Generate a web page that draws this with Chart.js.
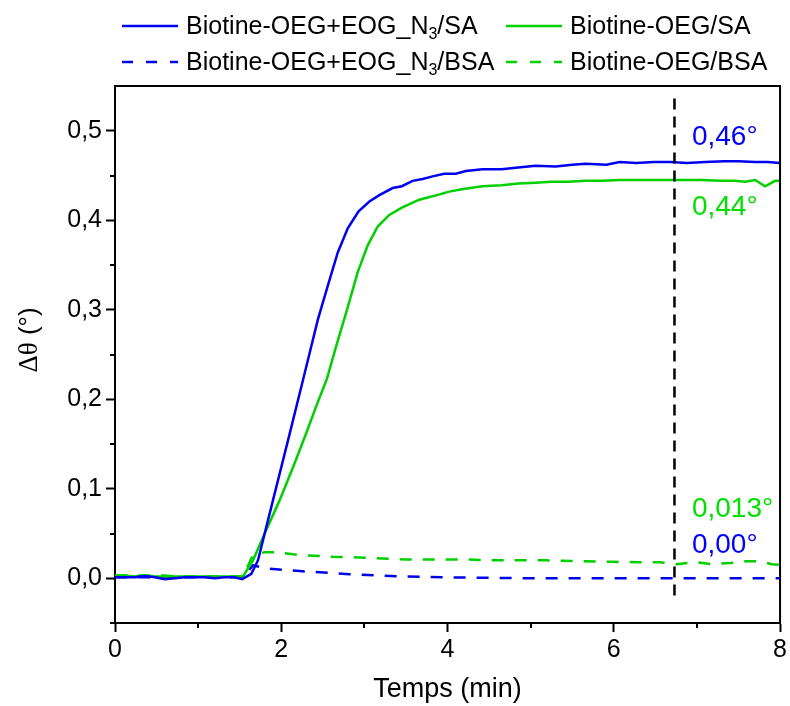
<!DOCTYPE html>
<html>
<head>
<meta charset="utf-8">
<script src="https://cdn.jsdelivr.net/npm/chart.js@4.4.1/dist/chart.umd.min.js"></script>
<style>
  html, body { margin: 0; padding: 0; background: #ffffff; }
  #wrap { width: 790px; height: 706px; position: relative; }
</style>
</head>
<body>
<div id="wrap"><canvas id="c" width="790" height="706"></canvas></div>
<script>
// ---------------- DATA ----------------
const seriesNames = [
  ['Biotine-OEG+EOG_N', '3', '/SA'],
  ['Biotine-OEG/SA', '', ''],
  ['Biotine-OEG+EOG_N', '3', '/BSA'],
  ['Biotine-OEG/BSA', '', '']
];
const yTitleParts = ['Δθ', ' (°)'];
const xTitle = 'Temps (min)';

const tSA_N3 = [0, 0.12, 0.24, 0.36, 0.48, 0.6, 0.72, 0.84, 0.96, 1.08, 1.2, 1.32, 1.44, 1.53, 1.64, 1.72, 1.9, 2.1, 2.26, 2.44, 2.57, 2.68, 2.8, 2.93, 3.06, 3.18, 3.34, 3.45, 3.58, 3.7, 3.82, 3.96, 4.1, 4.22, 4.42, 4.65, 4.85, 5.06, 5.3, 5.5, 5.66, 5.91, 6.07, 6.27, 6.48, 6.68, 6.88, 7.1, 7.33, 7.5, 7.7, 7.85, 8.0];
const vSA_N3 = [0.001, 0.001, 0.001, 0.0025, 0.001, -0.001, 0, 0.001, 0.001, 0.001, 0, 0.001, 0.001, -0.001, 0.005, 0.02, 0.087, 0.161, 0.221, 0.289, 0.33, 0.364, 0.391, 0.410, 0.421, 0.428, 0.436, 0.438, 0.444, 0.446, 0.449, 0.452, 0.452, 0.455, 0.457, 0.457, 0.459, 0.461, 0.460, 0.462, 0.463, 0.462, 0.465, 0.464, 0.465, 0.465, 0.464, 0.465, 0.466, 0.466, 0.465, 0.465, 0.464];

const tSA = [0, 0.12, 0.24, 0.36, 0.48, 0.6, 0.72, 0.84, 0.96, 1.08, 1.2, 1.32, 1.44, 1.54, 1.66, 1.8, 1.98, 2.15, 2.3, 2.42, 2.55, 2.66, 2.8, 2.92, 3.04, 3.16, 3.3, 3.45, 3.66, 3.83, 4.02, 4.19, 4.42, 4.65, 4.85, 5.06, 5.25, 5.45, 5.66, 5.86, 6.07, 6.27, 6.5, 6.8, 7.05, 7.29, 7.45, 7.58, 7.70, 7.82, 7.94, 8.0];
const vSA = [0.003, 0.003, 0.002, 0.003, 0.002, 0.002, 0.002, 0.002, 0.002, 0.002, 0.002, 0.002, 0.002, 0.002, 0.02, 0.05, 0.087, 0.126, 0.162, 0.192, 0.223, 0.259, 0.303, 0.342, 0.372, 0.393, 0.406, 0.414, 0.423, 0.427, 0.432, 0.435, 0.438, 0.439, 0.441, 0.442, 0.443, 0.443, 0.444, 0.444, 0.445, 0.445, 0.445, 0.445, 0.445, 0.444, 0.444, 0.443, 0.445, 0.438, 0.444, 0.444];

const tBSA_N3 = [0, 0.2, 0.4, 0.6, 0.8, 1.0, 1.2, 1.4, 1.54, 1.66, 1.82, 2.22, 2.82, 3.42, 4.02, 5.0, 6.0, 7.0, 8.0];
const vBSA_N3 = [0.001, 0.001, 0.001, 0.0, 0.001, 0.001, 0.001, 0.001, 0.001, 0.0145, 0.011, 0.008, 0.0045, 0.002, 0.001, 0.0, 0.0, 0.0, 0.0];

const tBSA = [0, 0.12, 0.24, 0.36, 0.48, 0.6, 0.72, 0.84, 0.96, 1.08, 1.2, 1.32, 1.44, 1.54, 1.66, 1.8, 1.94, 2.22, 2.62, 3.0, 3.22, 3.5, 3.82, 4.2, 4.5, 4.85, 5.19, 5.6, 5.98, 6.3, 6.55, 6.75, 6.99, 7.18, 7.4, 7.59, 7.75, 7.9, 8.0];
const vBSA = [0.003, 0.003, 0.003, 0.003, 0.003, 0.003, 0.002, 0.002, 0.002, 0.002, 0.002, 0.002, 0.002, 0.002, 0.026, 0.029, 0.029, 0.026, 0.024, 0.023, 0.022, 0.021, 0.021, 0.021, 0.020, 0.020, 0.020, 0.019, 0.0183, 0.018, 0.018, 0.0157, 0.018, 0.0157, 0.017, 0.019, 0.019, 0.0157, 0.015];

const xTickValues = [0, 2, 4, 6, 8];
const xMinorTicks = [1, 3, 5, 7];
const yTickValues = [0, 0.1, 0.2, 0.3, 0.4, 0.5];
const yMinorTicks = [-0.05, 0.05, 0.15, 0.25, 0.35, 0.45];

const markerTime = 6.73;           // vertical dashed reference line
const markerRange = [-0.025, 0.536];

const annotTexts = ['0,46°', '0,44°', '0,013°', '0,00°'];
const annotT = [6.94, 6.94, 6.94, 6.94];
const annotV = [0.493, 0.415, 0.077, 0.037];

// ---------------- STYLE ----------------
const BLUE = '#0000F0';
const GREEN = '#00D000';
const BLUE_TXT = '#0000FF';
const GREEN_TXT = '#00E000';
const annotColors = [BLUE_TXT, GREEN_TXT, GREEN_TXT, BLUE_TXT];
const FONT = "'Liberation Sans', Arial, sans-serif";
const SERIF = "'Liberation Serif', 'Times New Roman', serif";

function pts(t, v) { return t.map((x, i) => ({ x: x, y: v[i] })); }

const datasets = [
  { data: pts(tSA_N3, vSA_N3), borderColor: BLUE, borderWidth: 2.5 },
  { data: pts(tSA, vSA), borderColor: GREEN, borderWidth: 2.5 },
  { data: pts(tBSA_N3, vBSA_N3), borderColor: BLUE, borderWidth: 2.5, borderDash: [12, 11] },
  { data: pts(tBSA, vBSA), borderColor: GREEN, borderWidth: 2.5, borderDash: [12, 11] }
].map(d => Object.assign({ pointRadius: 0, tension: 0, fill: false }, d));

// ---------------- PLUGIN: frame, minor ticks, marker, annotations, legend, y title ----------------
const extras = {
  id: 'extras',
  afterDatasetsDraw(chart) {
    const ctx = chart.ctx;
    const ca = chart.chartArea;
    const xs = chart.scales.x, ys = chart.scales.y;
    ctx.save();
    // top & right frame
    ctx.strokeStyle = '#000';
    ctx.lineWidth = 2;
    ctx.beginPath();
    ctx.moveTo(ca.left, ca.top);
    ctx.lineTo(ca.right, ca.top);
    ctx.lineTo(ca.right, ca.bottom);
    ctx.stroke();
    // minor ticks
    ctx.beginPath();
    xMinorTicks.forEach(v => {
      const px = Math.round(xs.getPixelForValue(v));
      ctx.moveTo(px, ca.bottom); ctx.lineTo(px, ca.bottom + 5);
    });
    yMinorTicks.forEach(v => {
      const py = Math.round(ys.getPixelForValue(v));
      ctx.moveTo(ca.left, py); ctx.lineTo(ca.left - 5, py);
    });
    ctx.stroke();
    // vertical dashed marker
    ctx.setLineDash([11, 7]);
    ctx.lineWidth = 2.5;
    const mx = xs.getPixelForValue(markerTime);
    ctx.beginPath();
    ctx.moveTo(mx, ys.getPixelForValue(markerRange[1]));
    ctx.lineTo(mx, ys.getPixelForValue(markerRange[0]));
    ctx.stroke();
    ctx.setLineDash([]);
    // annotations
    ctx.font = '28px ' + FONT;
    ctx.textAlign = 'left';
    ctx.textBaseline = 'middle';
    annotTexts.forEach((txt, i) => {
      ctx.fillStyle = annotColors[i];
      ctx.fillText(txt, xs.getPixelForValue(annotT[i]), ys.getPixelForValue(annotV[i]));
    });
    // legend
    const cols = [122, 506];
    const rows = [26, 62];
    [0, 1, 2, 3].forEach((di, k) => {
      const ds = chart.data.datasets[di];
      const lx = cols[k % 2], ly = rows[Math.floor(k / 2)];
      ctx.strokeStyle = ds.borderColor;
      ctx.lineWidth = 2.5;
      ctx.setLineDash(ds.borderDash ? [11, 13] : []);
      ctx.beginPath();
      ctx.moveTo(lx, ly); ctx.lineTo(lx + 56, ly);
      ctx.stroke();
      ctx.setLineDash([]);
      const parts = seriesNames[di];
      let tx = lx + 64;
      ctx.fillStyle = '#000';
      ctx.textBaseline = 'middle';
      ctx.font = '25px ' + FONT;
      ctx.fillText(parts[0], tx, ly + 1);
      tx += ctx.measureText(parts[0]).width;
      if (parts[1]) {
        ctx.font = '16px ' + FONT;
        ctx.fillText(parts[1], tx, ly + 9);
        tx += ctx.measureText(parts[1]).width;
        ctx.font = '25px ' + FONT;
        ctx.fillText(parts[2], tx, ly + 1);
      }
    });
    // y-axis title (rotated)
    ctx.translate(30, 340);
    ctx.rotate(-Math.PI / 2);
    ctx.fillStyle = '#000';
    ctx.textBaseline = 'middle';
    ctx.font = '27px ' + SERIF;
    const w1 = ctx.measureText(yTitleParts[0]).width;
    ctx.font = '26px ' + FONT;
    const w2 = ctx.measureText(yTitleParts[1]).width;
    let sx = -(w1 + w2) / 2;
    ctx.font = '27px ' + SERIF;
    ctx.fillText(yTitleParts[0], sx, 0);
    ctx.font = '26px ' + FONT;
    ctx.fillText(yTitleParts[1], sx + w1, 0);
    ctx.restore();
  }
};

new Chart(document.getElementById('c'), {
  type: 'line',
  data: { datasets: datasets },
  options: {
    responsive: false,
    animation: false,
    events: [],
    layout: { padding: { top: 86, right: 9, left: 0, bottom: 0 } },
    plugins: { legend: { display: false }, tooltip: { enabled: false }, title: { display: false } },
    scales: {
      x: {
        type: 'linear',
        min: 0, max: 8,
        afterFit(s) { s.height = 83; },
        afterBuildTicks(s) { s.ticks = xTickValues.map(v => ({ value: v })); },
        grid: { display: true, drawOnChartArea: false, drawTicks: true, tickLength: 9, tickWidth: 2, tickColor: '#000' },
        border: { display: true, color: '#000', width: 2 },
        ticks: { color: '#000', font: { family: FONT, size: 25 }, padding: 3, maxRotation: 0,
                 callback: v => String(v) },
        title: { display: true, text: xTitle, color: '#000', font: { family: FONT, size: 27 }, padding: { top: 0, bottom: 0 } }
      },
      y: {
        type: 'linear',
        min: -0.05, max: 0.55,
        afterFit(s) { s.width = 115; },
        afterBuildTicks(s) { s.ticks = yTickValues.map(v => ({ value: v })); },
        grid: { display: true, drawOnChartArea: false, drawTicks: true, tickLength: 9, tickWidth: 2, tickColor: '#000' },
        border: { display: true, color: '#000', width: 2 },
        ticks: { color: '#000', font: { family: FONT, size: 25 }, padding: 4,
                 callback: v => v.toFixed(1).replace('.', ',') },
        title: { display: false }
      }
    }
  },
  plugins: [extras]
});
</script>
</body>
</html>
